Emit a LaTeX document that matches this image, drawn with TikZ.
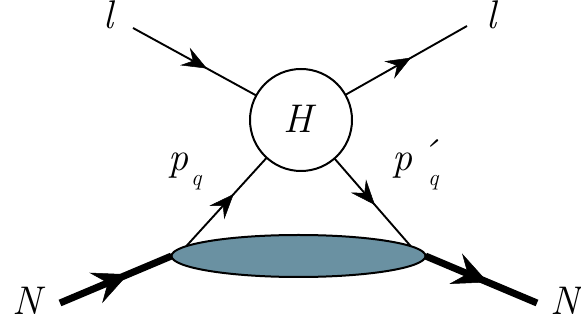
\documentclass[tikz,border=0pt]{standalone}
\usepackage{fontspec}
\usetikzlibrary{arrows.meta,decorations.markings,shapes.geometric}
\definecolor{blob}{RGB}{106,145,162}
\tikzset{
  lbl/.style={inner sep=0pt, outer sep=0pt, anchor=base, font=\fontsize{40}{40}\selectfont\itshape},
  fermion/.style={line width=1.9pt, postaction={decorate},
    decoration={markings, mark=at position #1 with {\arrow{Stealth[length=25pt,width=20pt,inset=9pt,line width=0.5pt]}}}},
  nucleon/.style={line width=7pt, postaction={decorate},
    decoration={markings, mark=at position #1 with {\arrow{Stealth[length=35pt,width=33pt,inset=13pt,line width=0.5pt]}}}},
  vertex/.style={circle, draw, line width=2pt, minimum size=102pt, inner sep=0pt, outer sep=0pt, fill=white},
  blobstyle/.style={ellipse, draw, line width=2pt, fill=blob, minimum width=254pt, minimum height=42pt, inner sep=0pt, outer sep=0pt}
}
\begin{document}
\begin{tikzpicture}[x=1pt,y=-1pt]
\useasboundingbox (0,0) rectangle (581,328);
\node[vertex] (H) at (301,120) {};
\node[lbl] (Ht) at (298,133) {H};
\node[blobstyle] (E) at (298.5,256) {};
\coordinate (l1) at (133,28);
\coordinate (l2) at (467,26);
\coordinate (n1) at (60,303);
\coordinate (n2) at (537,303);
\draw[fermion=0.6] (l1) -- (H);
\draw[fermion=0.54] (H) -- (l2);
\draw[fermion=0.59] (E.175) -- (H);
\draw[fermion=0.53] (H) -- (E.5.5);
\draw[nucleon=0.61] (n1) -- (E.west);
\draw[nucleon=0.56] (E.east) -- (n2);
\node[lbl] (la) at (108,29) {l};
\node[lbl] (lb) at (491,29) {l};
\node[lbl] (Na) at (27,315) {N};
\node[lbl] (Nb) at (565,315) {N};
\node[lbl, anchor=base west] (pq) at (168,171) {p\hspace{3pt}\raisebox{-15pt}{\fontsize{23}{23}\selectfont q}};
\node[lbl, anchor=base west] (pqp) at (392,171) {p\hspace{5pt}\rlap{\raisebox{3pt}{\'{}}}\hspace{11pt}\raisebox{-15pt}{\fontsize{23}{23}\selectfont q}};
\end{tikzpicture}
\end{document}
